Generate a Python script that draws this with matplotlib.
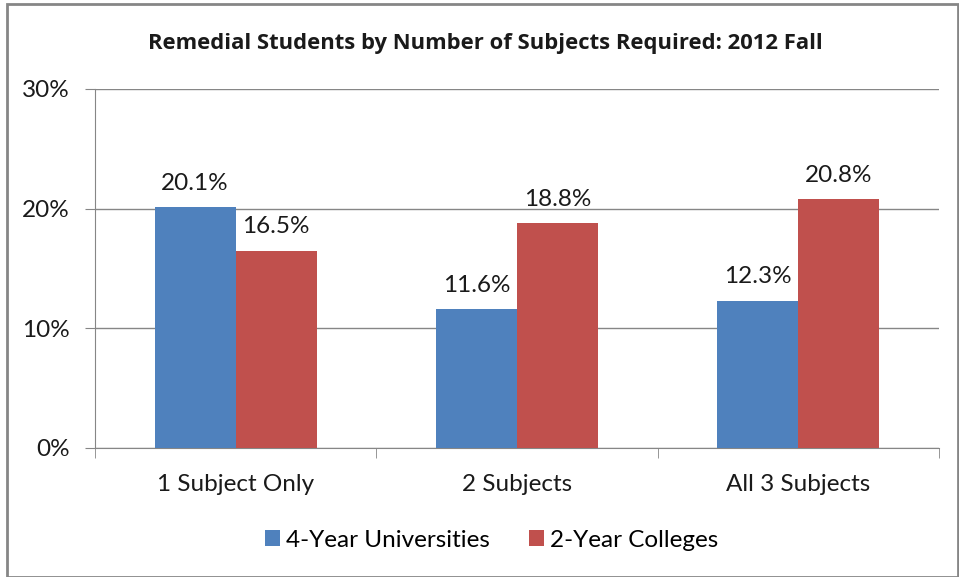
import matplotlib.pyplot as plt
import matplotlib.patches as patches
import numpy as np

categories = ["1 Subject Only", "2 Subjects", "All 3 Subjects"]
univ = [20.1, 11.6, 12.3]
colleges = [16.5, 18.8, 20.8]
series_names = ["4-Year Universities", "2-Year Colleges"]

plt.rcParams['font.family'] = ['Lato', 'DejaVu Sans']
FS = 17.5
TXT = '#1a1a1a'

fig = plt.figure(figsize=(9.59, 5.77), dpi=100)
ax = fig.add_axes([0.0991, 0.2236, 0.88, 0.6222])

# chart border
fig.patches.append(patches.Rectangle((7/959, 0), 951/959, 1 - 4/577, transform=fig.transFigure,
                                     fill=False, edgecolor='#868686', linewidth=2))

x = np.arange(len(categories))
w = 0.288
b1 = ax.bar(x - w/2, univ, w, color='#4F81BD', label=series_names[0], zorder=3)
b2 = ax.bar(x + w/2, colleges, w, color='#C0504D', label=series_names[1], zorder=3)

for bars in (b1, b2):
    for r in bars:
        ax.annotate("%.1f%%" % r.get_height(), (r.get_x() + r.get_width()/2, r.get_height()),
                    xytext=(0, 12.5), textcoords='offset points', ha='center', va='baseline',
                    fontsize=FS, color=TXT)

ax.set_xlim(-0.5, 2.5)
ax.set_ylim(0, 30)
ax.set_yticks([0, 10, 20, 30])
ax.set_yticklabels(["0%", "10%", "20%", "30%"], fontsize=FS, color=TXT)
ax.yaxis.grid(True, color='#868686', linewidth=1, zorder=0)
ax.set_xticks(x)
ax.set_xticklabels(categories, fontsize=FS, color=TXT)
ax.set_xticks([-0.5, 0.5, 1.5, 2.5], minor=True)
ax.tick_params(axis='x', which='major', length=0, pad=19)
ax.tick_params(axis='x', which='minor', length=7, color='#868686')
ax.tick_params(axis='y', length=7, color='#868686', pad=11)

for s in ['top', 'right']:
    ax.spines[s].set_visible(False)
for s in ['left', 'bottom']:
    ax.spines[s].set_color('#868686')

fig.text(0.506, 0.925, "Remedial Students by Number of Subjects Required: 2012 Fall",
         ha='center', va='center', fontsize=15.8, fontweight='bold', color=TXT,
         family=['Open Sans', 'DejaVu Sans'])

fig.legend(loc='center', bbox_to_anchor=(0.513, 0.064), ncol=2, frameon=False, fontsize=FS,
           handlelength=0.62, handleheight=0.62, handletextpad=0.25, columnspacing=1.6)

fig.savefig("out.png", dpi=100)
